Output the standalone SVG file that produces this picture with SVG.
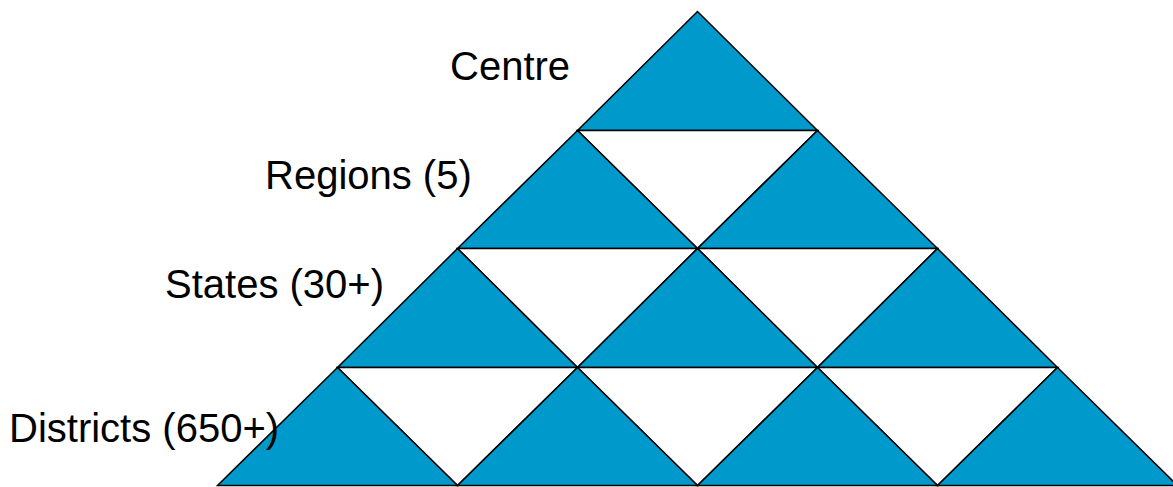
<svg xmlns="http://www.w3.org/2000/svg" width="1173" height="487" viewBox="0 0 1173 487">
<style>
.b{fill:#0099cc;stroke:#000;stroke-width:1.5;stroke-linejoin:miter}
.w{fill:#fff;stroke:#000;stroke-width:1.5}
.t{font-family:"Liberation Sans",Arial,sans-serif;font-size:40px;fill:#000}
</style>
<rect width="1173" height="487" fill="#fff"/>
<g id="pyramid">
<g id="row1">
<polygon class="b" points="697.5,11.5 817.5,130.5 577.5,130.5"/>
</g>
<g id="row2">
<polygon class="w" points="577.5,130.5 817.5,130.5 697.5,248.5"/>
<polygon class="b" points="577.5,130.5 697.5,248.5 457.5,248.5"/>
<polygon class="b" points="817.5,130.5 937.5,248.5 697.5,248.5"/>
</g>
<g id="row3">
<polygon class="w" points="457.5,248.5 697.5,248.5 577.5,367.5"/>
<polygon class="w" points="697.5,248.5 937.5,248.5 817.5,367.5"/>
<polygon class="b" points="457.5,248.5 577.5,367.5 337.5,367.5"/>
<polygon class="b" points="697.5,248.5 817.5,367.5 577.5,367.5"/>
<polygon class="b" points="937.5,248.5 1057.5,367.5 817.5,367.5"/>
</g>
<g id="row4">
<polygon class="w" points="337.5,367.5 577.5,367.5 457.5,485.5"/>
<polygon class="w" points="577.5,367.5 817.5,367.5 697.5,485.5"/>
<polygon class="w" points="817.5,367.5 1057.5,367.5 937.5,485.5"/>
<polygon class="b" points="337.5,367.5 457.5,485.5 217.5,485.5"/>
<polygon class="b" points="577.5,367.5 697.5,485.5 457.5,485.5"/>
<polygon class="b" points="817.5,367.5 937.5,485.5 697.5,485.5"/>
<polygon class="b" points="1057.5,367.5 1177.5,485.5 937.5,485.5"/>
</g>
</g>
<g id="labels">
<g id="centre"><text class="t" x="450" y="80">Centre</text></g>
<g id="regions"><text class="t" x="265" y="189">Regions (5)</text></g>
<g id="states"><text class="t" x="165" y="298">States (30+)</text></g>
<g id="districts"><text class="t" x="9" y="442">Districts (650+)</text></g>
</g>
</svg>
